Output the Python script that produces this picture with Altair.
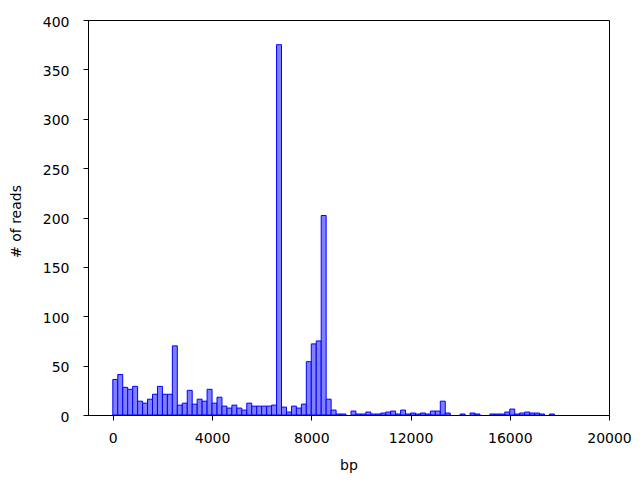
import altair as alt
import pandas as pd

# Histogram of read positions (bin width 200 bp), counts
bin_width = 200
counts = [
    36, 41, 28, 26, 29, 14, 12, 16, 21, 29,   # 0 - 2000
    21, 21, 70, 10, 12, 25, 11, 16, 14, 26,   # 2000 - 4000
    12, 18, 9, 7, 10, 7, 5, 12, 9, 9,         # 4000 - 6000
    9, 9, 10, 375, 8, 3, 9, 7, 11, 54,        # 6000 - 8000
    72, 75, 202, 16, 5, 1, 1, 0, 4, 1,        # 8000 - 10000
    1, 3, 1, 1, 2, 3, 4, 1, 5, 1,             # 10000 - 12000
    2, 1, 2, 1, 4, 4, 14, 2, 0, 0,            # 12000 - 14000
    1, 0, 2, 1, 0, 0, 1, 1, 1, 3,             # 14000 - 16000
    6, 1, 2, 3, 2, 2, 1, 0, 1,                # 16000 - 17800
]
x_ticks = [0, 4000, 8000, 12000, 16000, 20000]
y_ticks = [0, 50, 100, 150, 200, 250, 300, 350, 400]

starts = [i * bin_width for i in range(len(counts))]
df = pd.DataFrame({
    "start": starts,
    "end": [s + bin_width for s in starts],
    "count": counts,
})
df = df[df["count"] > 0]

font = "DejaVu Sans"

chart = (
    alt.Chart(df)
    .mark_bar(fill="#7f7fff", stroke="#0000ff", strokeWidth=1, binSpacing=0)
    .encode(
        x=alt.X(
            "start:Q",
            scale=alt.Scale(domain=[-1000, 20000], nice=False, zero=False),
            axis=alt.Axis(
                title="bp",
                values=x_ticks,
                format="d",
                grid=False,
                tickSize=5,
                labelPadding=11,
                labelFlush=False,
                labelOverlap=False,
                titleY=54,
                titleBaseline="alphabetic",
            ),
        ),
        x2="end:Q",
        y=alt.Y(
            "count:Q",
            scale=alt.Scale(domain=[0, 400], nice=False),
            axis=alt.Axis(
                title="# of reads",
                values=y_ticks,
                grid=False,
                tickSize=5,
                labelPadding=14,
                labelOffset=2,
                labelFlush=False,
                labelOverlap=False,
                titleX=-72,
                titleY=201,
                titleAngle=270,
                titleBaseline="middle",
                titleAlign="center",
            ),
        ),
        y2=alt.datum(0),
    )
    .properties(
        width=521,
        height=395,
        autosize=alt.AutoSizeParams(type="none"),
        padding={"left": 80, "top": 12, "right": 23, "bottom": 65},
    )
    .configure_view(stroke="black", strokeWidth=1)
    .configure_axis(
        domainColor="black",
        tickColor="black",
        labelColor="black",
        titleColor="black",
        labelFont=font,
        titleFont=font,
        labelFontSize=14,
        titleFontSize=14,
        titleFontWeight="normal",
        domainWidth=1,
        tickWidth=1,
    )
)

chart.save("out.html", embed_options={"renderer": "svg", "actions": False})
